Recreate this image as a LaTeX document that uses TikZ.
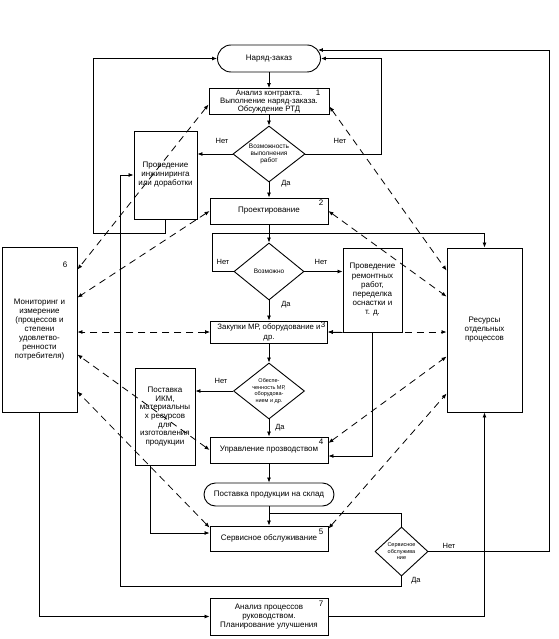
\documentclass[tikz,border=0pt]{standalone}
\usepackage{fontspec}
\setmainfont{Liberation Sans}
\usetikzlibrary{arrows.meta,shapes.geometric,calc}

\tikzset{
  box/.style={draw, line width=0.9pt, inner sep=1pt, align=center, font=\fontsize{8}{9}\selectfont},
  term/.style={draw, line width=0.9pt, inner sep=1pt, font=\fontsize{8}{9}\selectfont},
  decision/.style={draw, diamond, aspect=1.3, line width=0.9pt, inner sep=0pt, align=center, font=\fontsize{6}{7}\selectfont},
  num/.style={inner sep=0pt, font=\fontsize{8}{8}\selectfont},
  lbl/.style={inner sep=0pt, font=\fontsize{7.5}{8}\selectfont},
  flow/.style={->, line width=0.8pt},
  link/.style={<->, line width=0.8pt, dash pattern=on 7pt off 5pt},
}

\begin{document}
\begin{tikzpicture}[x=1pt,y=-1pt,>={Latex[length=5pt,width=4pt]}]
  \useasboundingbox (0,0) rectangle (558,639);

  % Основная цепочка
  \node[term, rounded corners=13.5pt, minimum width=103pt, minimum height=27pt] (order) at (269,58.5) {Наряд-заказ};
  \node[box, minimum width=120pt, minimum height=26pt, inner sep=0pt, font=\fontsize{7.8}{8}\selectfont] (contract) at (269,101.5) {Анализ контракта.\\Выполнение наряд-заказа.\\Обсуждение РТД};
  \node[decision, minimum width=72pt, minimum height=56pt, font=\fontsize{6.5}{7.3}\selectfont] (canwork) at (269,154) {Возможность\\выполнения\\работ};
  \node[box, minimum width=118pt, minimum height=26pt] (design) at (269,211) {Проектирование};
  \node[decision, minimum width=70pt, minimum height=57pt, font=\fontsize{6.5}{7.3}\selectfont] (possible) at (269,271.5) {Возможно};
  \node[box, minimum width=117pt, minimum height=22pt, font=\fontsize{7.8}{10}\selectfont] (purchase) at (269,332) {Закупки МР, оборудование и\\др.};
  \node[decision, minimum width=71pt, minimum height=56pt, font=\fontsize{5.5}{6.6}\selectfont] (supply) at (269,391) {Обеспе-\\ченность МР,\\оборудова-\\нием и др.};
  \node[box, minimum width=118pt, minimum height=26pt] (prod) at (269,450) {Управление прозводством};
  \node[term, rounded corners=11.5pt, minimum width=130pt, minimum height=23pt] (stock) at (269,494.5) {Поставка продукции на склад};
  \node[box, minimum width=118pt, minimum height=25pt] (service) at (269,538.5) {Сервисное обслуживание};
  \node[decision, minimum width=53pt, minimum height=49pt, font=\fontsize{5.5}{6.6}\selectfont] (servq) at (401.5,551.5) {Сервисное\\обслужива\\ние};
  \node[box, minimum width=118pt, minimum height=37pt] (review) at (269,616.5) {Анализ процессов\\руководством.\\Планирование улучшения};

  % Боковые блоки
  \node[box, minimum width=63pt, minimum height=88pt] (engin) at (165.5,175) {Проведение\\инжиниринга\\или доработки};
  \node[box, minimum width=59pt, minimum height=84pt, font=\fontsize{8}{9.2}\selectfont] (repair) at (372.5,290) {Проведение\\ремонтных\\работ,\\переделка\\оснастки и\\т. д.};
  \node[box, minimum width=60pt, minimum height=97pt, font=\fontsize{8}{8.6}\selectfont] (ikm) at (165,416.5) {Поставка\\ИКМ,\\материальны\\х ресурсов\\для\\изготовления\\продукции};
  \node[box, minimum width=75pt, minimum height=165pt] (monitor) at (39.5,329.5) {Мониторинг и\\измерение\\(процессов и\\степени\\удовлетво-\\ренности\\потребителя)};
  \node[box, minimum width=75pt, minimum height=164pt] (res) at (484.5,330) {Ресурсы\\отдельных\\процессов};

  % Номера процессов
  \node[num] (n1) at (318,93) {1};
  \node[num] (n2) at (321,203) {2};
  \node[num] (n3) at (323,325) {3};
  \node[num] (n4) at (321,442) {4};
  \node[num] (n5) at (321,532) {5};
  \node[num] (n6) at (65,265) {6};
  \node[num] (n7) at (321,604) {7};

  % Подписи ветвлений
  \node[lbl] (no1) at (222,141) {Нет};
  \node[lbl] (no2) at (340,141) {Нет};
  \node[lbl] (yes1) at (286,184) {Да};
  \node[lbl] (no3) at (223,262) {Нет};
  \node[lbl] (no4) at (321,262) {Нет};
  \node[lbl] (yes2) at (286,305) {Да};
  \node[lbl] (no5) at (221,381) {Нет};
  \node[lbl] (yes3) at (280,428) {Да};
  \node[lbl] (no6) at (449,546) {Нет};
  \node[lbl] (yes4) at (416,581) {Да};

  % Связи
  \coordinate (rnet) at (381,154);
  \coordinate (lret) at (93,233);
  \coordinate (lnet) at (212,233);
  \coordinate (sbr) at (269,513);
  \coordinate (rtop) at (549,50);
  \coordinate (lbot) at (120,586);

  \draw[flow] (order.south) -- (contract.north);
  \draw[flow] (contract.south) -- (canwork.north);
  \draw[flow] (canwork.west) -- (canwork.west -| engin.east);
  \draw[flow] (canwork.east) -- (rnet) |- (order.east);
  \draw[flow] (engin.south) |- (lret) |- (order.west);
  \draw[flow] (canwork.south) -- (design.north);
  \draw[flow] (design.south) -- (possible.north);
  \draw[flow] (possible.west) -| (lnet) -| (res.north);
  \draw[flow] (possible.east) -- (possible.east -| repair.west);
  \draw[flow] (possible.south) -- (purchase.north);
  \draw[flow] (repair.south west) -- (purchase.east);
  \draw[flow] (repair.south) |- ([yshift=-6pt]prod.east);
  \draw[flow] (purchase.south) -- (supply.north);
  \draw[flow] (supply.west) -- (supply.west -| ikm.east);
  \draw[flow] (supply.south) -- (prod.north);
  \draw[flow] ([xshift=-15pt]ikm.south) |- ([yshift=5.5pt]service.west);
  \draw[flow] (prod.south) -- (stock.north);
  \draw[flow] (stock.south) -- (service.north);
  \draw[line width=0.8pt] (sbr) -| (servq.north);
  \draw[flow] (servq.east) -| (rtop) -- ($(rtop -| order.east)+(-3,0)$);
  \draw[flow] (servq.south) |- (lbot) |- (engin.west);
  \draw[flow] (monitor.south) |- (review.west);
  \draw[flow] (review.east) -| (res.south);

  % Мониторинг
  \draw[link] ([yshift=-3pt]contract.west) -- ([yshift=-23pt]monitor.north east);
  \draw[link] (design.west) -- ([yshift=-51pt]monitor.north east);
  \draw[link] (purchase.west) -- (purchase.west -| monitor.east);
  \draw[link] (prod.west) -- ([yshift=-108pt]monitor.north east);
  \draw[link] ([yshift=-2pt]service.north west) -- ([yshift=-145pt]monitor.north east);

  % Ресурсы
  \draw[link] ([yshift=-5pt]contract.east) -- ([yshift=-23pt]res.north west);
  \draw[link] (design.east) -- ([yshift=-49pt]res.north west);
  \draw[link] (purchase.east) -- (purchase.east -| res.west);
  \draw[link] ([yshift=7pt]prod.east) -- ([yshift=-109pt]res.north west);
  \draw[link] ([yshift=-3pt]service.north east) -- ([yshift=-146pt]res.north west);
\end{tikzpicture}
\end{document}
